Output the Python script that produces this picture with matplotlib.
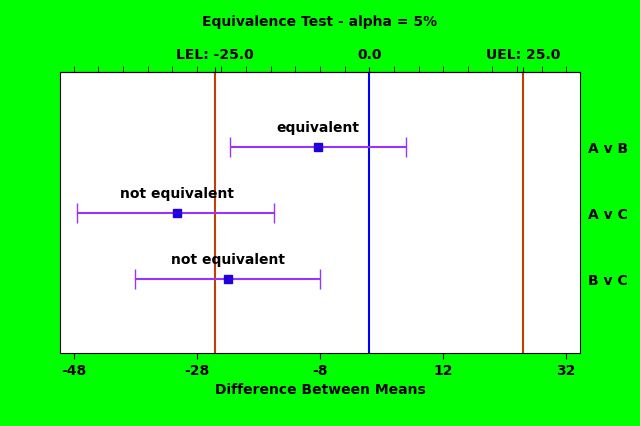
import matplotlib
matplotlib.use('Agg')
import matplotlib.pyplot as plt

comparisons = ["A v B", "A v C", "B v C"]
lower = [-22.6, -47.4, -38.0]
means = [-8.3, -31.3, -22.9]
upper = [6.0, -15.5, -8.0]
verdicts = ["equivalent", "not equivalent", "not equivalent"]
lel, uel = -25.0, 25.0
xticks = [-48, -28, -8, 12, 32]

fig = plt.figure(figsize=(6.4, 4.26), dpi=100, facecolor='#00ff00')
ax = fig.add_axes([0.094, 0.171, 0.812, 0.66])
ypos = [3, 2, 1]

ax.axvline(lel, color='#c04000', lw=1.5)
ax.axvline(uel, color='#c04000', lw=1.5)
ax.axvline(0.0, color='#0000ff', lw=1.5)

for y, lo, m, hi, v in zip(ypos, lower, means, upper, verdicts):
    ax.errorbar(m, y, xerr=[[m - lo], [hi - m]], fmt='s', color='#9933ff',
                mfc='#2200dd', mec='#2200dd', ms=6, capsize=7, lw=1.5)
    ax.text(m, y + 0.18, v, ha='center', va='bottom', fontsize=10,
            fontweight='bold')

ax.set_xlim(-50.2, 34.2)
ax.set_ylim(-0.12, 4.14)
ax.set_xticks(xticks)
ax.set_xticklabels([str(t) for t in xticks], fontweight='bold', fontsize=10)
ax.set_yticks(ypos)
ax.set_yticklabels(comparisons, fontweight='bold', fontsize=10)
ax.yaxis.tick_right()
ax.tick_params(axis='y', length=0, pad=6)
ax.set_xlabel("Difference Between Means", fontweight='bold', fontsize=10)

top = ax.secondary_xaxis('top')
top.set_xticks([lel, 0.0, uel])
top.set_xticklabels(["LEL: -25.0", "0.0", "UEL: 25.0"], fontweight='bold',
                    fontsize=10)
top.set_xticks(range(-48, 34, 4), minor=True)
top.tick_params(which='minor', length=4)
ax.tick_params(axis='x', which='major', length=4)

fig.suptitle("Equivalence Test - alpha = 5%", fontweight='bold', fontsize=10,
             y=0.965)
fig.savefig("out.png", dpi=100, facecolor=fig.get_facecolor())
